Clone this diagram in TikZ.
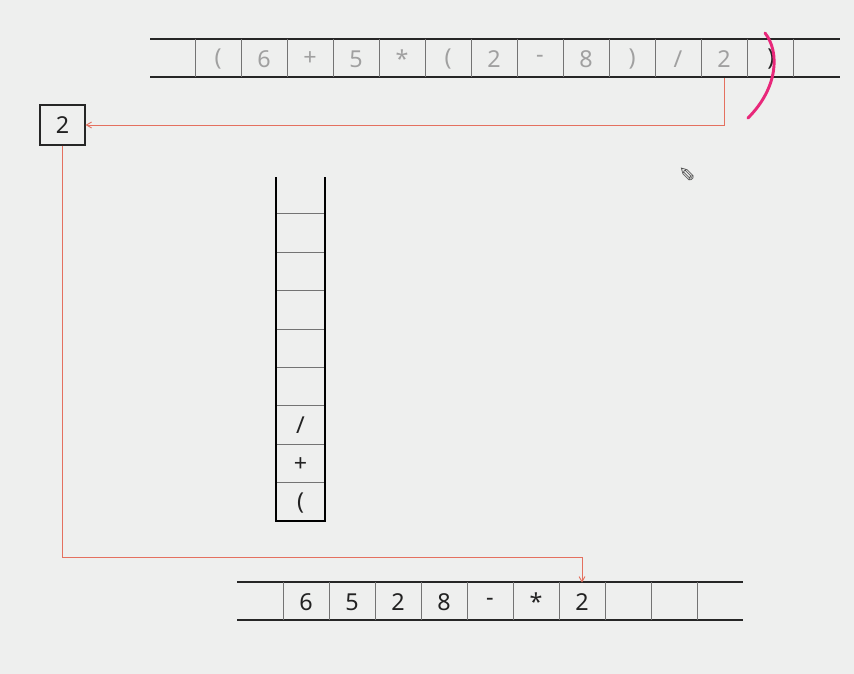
\documentclass[tikz,border=0pt]{standalone}
\usepackage{fontspec}
\setmainfont{Noto Sans}
\newfontfamily\symfont{DejaVu Sans}
\usetikzlibrary{arrows,positioning}

\definecolor{bgcol}{HTML}{EEEFEE}
\definecolor{arrowred}{HTML}{E4705F}
\definecolor{penpink}{HTML}{E8287A}
\definecolor{fadedtext}{HTML}{A0A0A0}
\definecolor{inktext}{HTML}{222222}

\begin{document}
\begin{tikzpicture}[x=0.75pt,y=-0.75pt,>=angle 60,semithick]
  \tikzstyle{every node}=[font=\fontsize{17.5}{20}\selectfont,text=inktext]
  \tikzstyle{cell}=[minimum width=34.5pt,minimum height=28.5pt,inner sep=0pt]
  \tikzstyle{tapeline}=[draw=black!85,line width=1pt]
  \tikzstyle{divider}=[draw=black!55,line width=0.6pt]
  \tikzstyle{redline}=[draw=arrowred,line width=0.7pt]

  \fill[bgcol] (0,0) rectangle (854,674);

  % input expression
  \draw[tapeline] (150,39) -- (840,39) (150,77) -- (840,77);
  \foreach \x in {195,241,...,793} \draw[divider] (\x,39) -- (\x,77);
  \foreach \t [count=\i] in {{(},6,+,5,*,{(},2,-,8,{)},/,2}
    \node[cell,text=fadedtext] (in\i) at ({172+46*\i},59) {\t};
  \node[cell]          (in13) [right=0pt of in12] {)};

  % current token
  \node[draw=black!85,line width=0.8pt,minimum width=33.75pt,minimum height=30pt,
        inner sep=0pt] (tok) at (62.5,125) {2};

  % operator stack
  \foreach \k in {1,...,8} \draw[divider] (276,{521-38.4*\k}) -- (325,{521-38.4*\k});
  \draw[line width=1.8pt] (276,177) -- (276,521) -- (325,521) -- (325,177);
  \node[cell] (s1) at (300.5,503) {(};
  \node[cell] (s2) [above=0pt of s1] {+};
  \node[cell] (s3) [above=0pt of s2] {/};

  % postfix output
  \draw[tapeline] (237,582) -- (743,582) (237,620) -- (743,620);
  \foreach \x in {283,329,...,697} \draw[divider] (\x,582) -- (\x,620);
  \foreach \t [count=\i] in {6,5,2,8,-,*,2}
    \node[cell] (out\i) at ({260+46*\i},602) {\t};

  \path[redline,->] (in12.south) |- (tok.east);
  \path[redline,->] (tok.south) -- ++(0,412) -| (out7.north);

  % pen mark and cursor
  \draw[penpink,line width=2.2pt,line cap=round]
    (765,33) .. controls (780,52) and (778,88) .. (748,118);
  \node[font=\symfont\fontsize{15}{15}\selectfont,text=black!70,rotate=180] (pen) at (687,174) {✎};
\end{tikzpicture}
\end{document}
